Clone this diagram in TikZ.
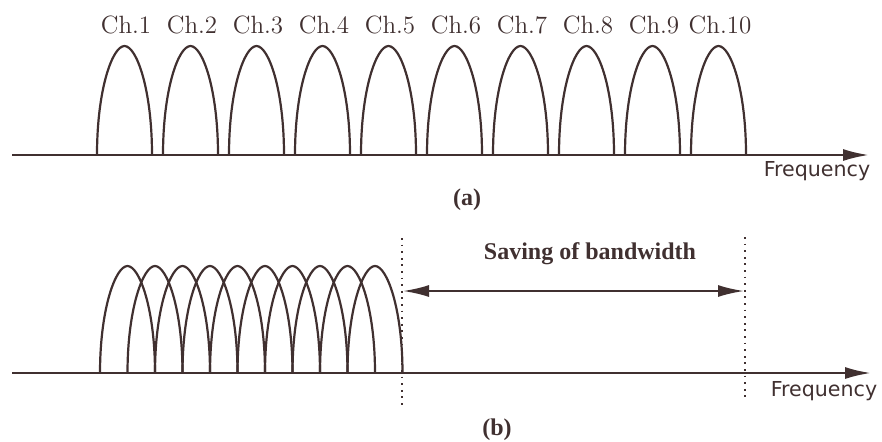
\documentclass[tikz,border=0pt]{standalone}
\usepackage{fontspec}
\setsansfont{DejaVu Sans}
\newfontfamily\timesfont{Liberation Serif}
\usetikzlibrary{arrows.meta}
\definecolor{InkClr}{rgb}{0.25,0.19,0.19}

\tikzset{
  arch/.style={line width=1.1pt,color=InkClr},
  freqaxis/.style={line width=1.2pt,color=InkClr,-{Latex[length=13pt,width=6pt]}},
  gapline/.style={line width=0.9pt,color=InkClr,dash pattern=on 0.9pt off 2.4pt},
  saving/.style={line width=1pt,color=InkClr,{Latex[length=13pt,width=6pt]}-{Latex[length=13pt,width=6pt]}},
  chlabel/.style={text=InkClr,font=\fontsize{12.5}{14}\selectfont},
  freqlabel/.style={text=InkClr,font=\sffamily\fontsize{10.3}{12}\selectfont},
  caplabel/.style={text=InkClr,font=\timesfont\bfseries\fontsize{12}{14}\selectfont},
}

\begin{document}
\begin{tikzpicture}[x=0.5pt,y=-0.5pt]
\useasboundingbox (0,0) rectangle (882,441);

% (a) separate channels
\coordinate (fa0) at (12,155);
\coordinate (fa1) at (869,155);
\draw[freqaxis] (fa0) -- (fa1);
\foreach \i in {1,...,10}{
  \pgfmathsetmacro{\xs}{97+66*(\i-1)}
  \draw[arch] (\xs,155) .. controls +(0,-66) and +(-12,0) .. ++(27.5,-109)
                        .. controls +(12,0) and +(0,-66) .. ++(27.5,109);
  \node[chlabel] (ch\i) at (\xs+29,25) {Ch.\i};
}
\node[freqlabel] (freqA) at (817,171) {Frequency};
\node[caplabel] (capA) at (467,200) {(a)};

% (b) overlapping channels
\coordinate (fb0) at (12,373);
\coordinate (fb1) at (871,373);
\draw[freqaxis] (fb0) -- (fb1);
\foreach \i in {0,...,9}{
  \pgfmathsetmacro{\xs}{100+27.5*\i}
  \draw[arch] (\xs,373) .. controls +(0,-64) and +(-12,0) .. ++(27.5,-107)
                        .. controls +(12,0) and +(0,-64) .. ++(27.5,107);
}

\coordinate (gL0) at (402,238);
\coordinate (gL1) at (402,405);
\coordinate (gR0) at (745,237);
\coordinate (gR1) at (745,398);
\draw[gapline] (gL0) -- (gL1);
\draw[gapline] (gR0) -- (gR1);
\coordinate (bwL) at (403,291);
\coordinate (bwR) at (744,291);
\draw[saving] (bwL) -- (bwR);
\node[caplabel] (savebw) at (590,254) {Saving of bandwidth};

\node[freqlabel] (freqB) at (824,391) {Frequency};
\node[caplabel] (capB) at (497,430) {(b)};

\end{tikzpicture}
\end{document}
